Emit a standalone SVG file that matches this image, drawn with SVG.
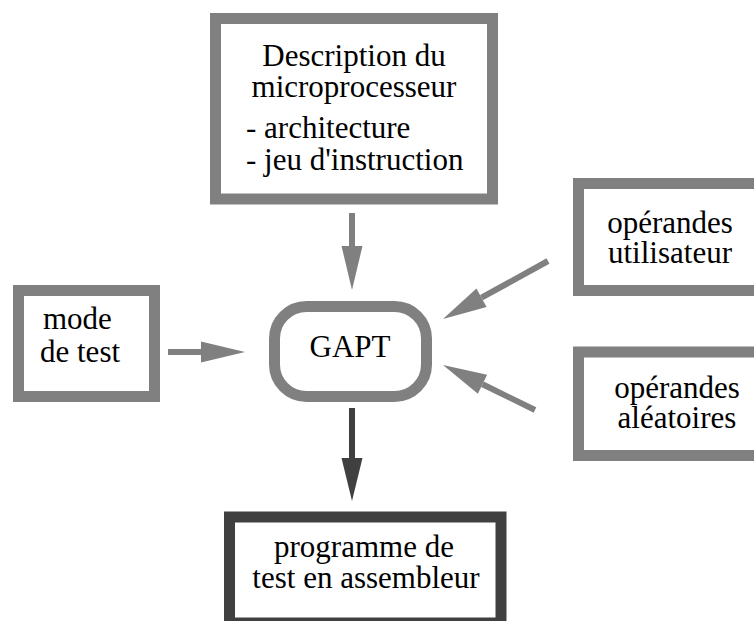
<svg xmlns="http://www.w3.org/2000/svg" width="754" height="621" viewBox="0 0 754 621">
<style>
  .box { fill: #ffffff; stroke: #808080; stroke-width: 11; }
  .dark { stroke: #404040; }
  .t { font-family: "Liberation Serif", "Times New Roman", serif; font-size: 31px; fill: #000000; }
  .c { text-anchor: middle; }
  .shaft { stroke: #808080; stroke-width: 6; fill: none; }
  .shaftd { stroke: #404040; stroke-width: 6; fill: none; }
</style>
<defs>
  <marker id="ah" markerUnits="userSpaceOnUse" markerWidth="46" markerHeight="24" refX="0" refY="10.5" orient="auto" overflow="visible">
    <path d="M0,0 L44,10.5 L0,21 Z" fill="#808080"/>
  </marker>
  <marker id="ahd" markerUnits="userSpaceOnUse" markerWidth="46" markerHeight="24" refX="0" refY="10.5" orient="auto" overflow="visible">
    <path d="M0,0 L43,10.5 L0,21 Z" fill="#404040"/>
  </marker>
</defs>
<rect width="754" height="621" fill="#ffffff"/>

<g id="description">
  <rect class="box" x="215.5" y="18.5" width="277" height="180.5"/>
  <text class="t c" x="354" y="66">Description du</text>
  <text class="t c" x="354" y="97">microprocesseur</text>
  <text class="t" x="246" y="138">- architecture</text>
  <text class="t" x="246" y="170">- jeu d'instruction</text>
</g>

<g id="mode">
  <rect class="box" x="18.5" y="290.5" width="136" height="106"/>
  <text class="t" x="43" y="329">mode</text>
  <text class="t" x="40" y="362">de test</text>
</g>

<g id="gapt">
  <rect class="box" x="274.5" y="306.5" width="152" height="90" rx="32" ry="32"/>
  <text class="t c" x="350" y="357">GAPT</text>
</g>

<g id="operandes-utilisateur">
  <rect class="box" x="578.5" y="183.5" width="200" height="107"/>
  <text class="t c" x="670" y="233">opérandes</text>
  <text class="t c" x="670" y="263">utilisateur</text>
</g>

<g id="operandes-aleatoires">
  <rect class="box" x="578.5" y="352" width="200" height="103.5"/>
  <text class="t c" x="677" y="398">opérandes</text>
  <text class="t c" x="677" y="428">aléatoires</text>
</g>

<g id="programme">
  <rect class="box dark" x="229.5" y="517" width="271.5" height="106"/>
  <text class="t c" x="364" y="557">programme de</text>
  <text class="t c" x="366" y="588">test en assembleur</text>
</g>

<g id="connectors">
  <line class="shaft" x1="352" y1="213" x2="352" y2="246" marker-end="url(#ah)"/>
  <line class="shaft" x1="168" y1="352" x2="201" y2="352" marker-end="url(#ah)"/>
  <line class="shaft" x1="548" y1="261" x2="481.5" y2="297.7" marker-end="url(#ah)"/>
  <line class="shaft" x1="535" y1="410" x2="482.5" y2="384.3" marker-end="url(#ah)"/>
  <line class="shaftd" x1="352" y1="408" x2="352" y2="458" marker-end="url(#ahd)"/>
</g>
</svg>
